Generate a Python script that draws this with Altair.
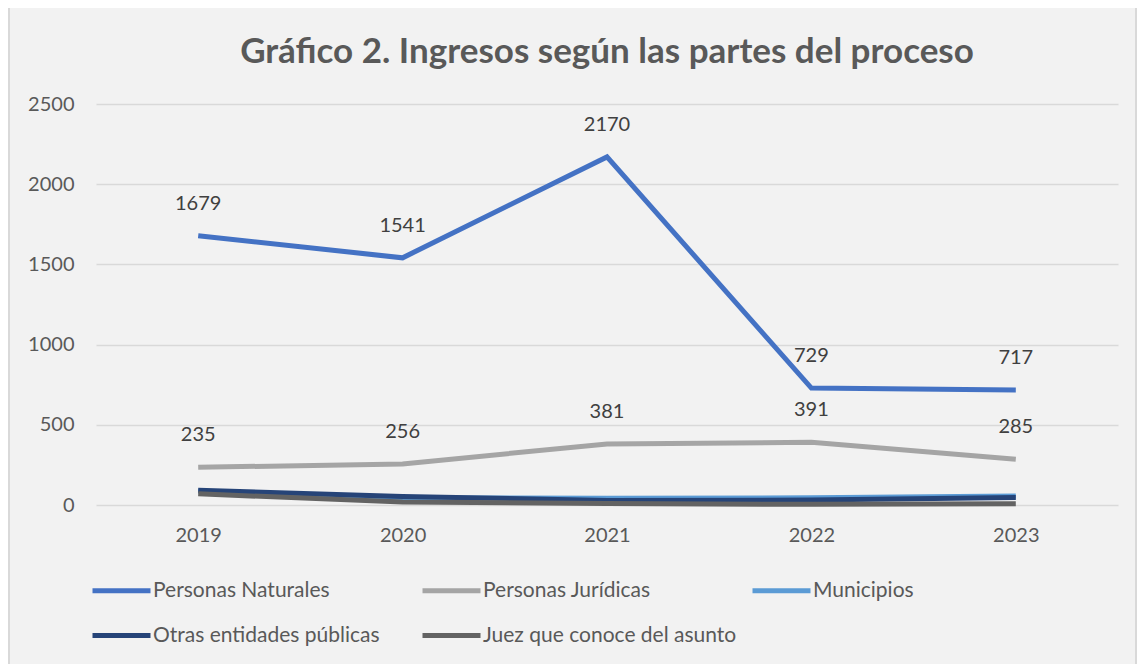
import altair as alt
import pandas as pd

years = ["2019", "2020", "2021", "2022", "2023"]
series_names = ["Personas Naturales", "Personas Jurídicas", "Municipios",
                "Otras entidades públicas", "Juez que conoce del asunto"]
naturales = [1679, 1541, 2170, 729, 717]
juridicas = [235, 256, 381, 391, 285]
municipios = [85, 45, 42, 45, 56]
otras = [92, 53, 28, 31, 47]
juez = [70, 18, 9, 4, 8]
colors = ["#4472C4", "#A5A5A5", "#5B9BD5", "#264478", "#636363"]
labeled = ["Personas Naturales", "Personas Jurídicas"]

values = [naturales, juridicas, municipios, otras, juez]
rows = []
for si, (name, vals) in enumerate(zip(series_names, values)):
    for y, v in zip(years, vals):
        rows.append({"year": y, "serie": name, "valor": v, "orden": si})
df = pd.DataFrame(rows)

FONT = "Lato"
W, H = 1022, 401

x_enc = alt.X("year:O", sort=years, scale=alt.Scale(type="point", padding=0.5),
              axis=alt.Axis(title=None, labelAngle=0, ticks=False, domain=False,
                            labelFontSize=20, labelColor="#595959", labelFont=FONT,
                            labelPadding=20))
y_enc = alt.Y("valor:Q", scale=alt.Scale(domain=[0, 2500], nice=False),
              axis=alt.Axis(title=None, values=[0, 500, 1000, 1500, 2000, 2500],
                            format="d", ticks=False, domain=False, grid=True,
                            gridColor="#D9D9D9", gridWidth=1.5, labelFontSize=20,
                            labelColor="#595959", labelFont=FONT, labelPadding=22))

frame = alt.Chart(pd.DataFrame({"a": [0]})).mark_rect(
    fill=None, stroke="#D9D9D9", strokeWidth=2
).encode(x=alt.value(-87), x2=alt.value(W + 18), y=alt.value(-98), y2=alt.value(H + 160))

lines = alt.Chart(df).mark_line(strokeWidth=5, strokeCap="butt").encode(
    x=x_enc, y=y_enc,
    color=alt.Color("serie:N", sort=series_names,
                    scale=alt.Scale(domain=series_names, range=colors),
                    legend=alt.Legend(title=None, orient="none", legendX=-6, legendY=455,
                                      direction="horizontal", columns=3, gridAlign="all",
                                      symbolType="stroke", symbolSize=3364,
                                      symbolStrokeWidth=5, labelFontSize=21,
                                      labelFont=FONT, labelColor="#595959",
                                      labelOffset=0, columnPadding=5, rowPadding=3,
                                      labelLimit=400)),
    order=alt.Order("orden:Q"),
    detail="serie:N",
)

labels = alt.Chart(df).transform_filter(
    alt.FieldOneOfPredicate(field="serie", oneOf=labeled)
).mark_text(fontSize=20, font=FONT, color="#404040", dy=-32).encode(
    x=alt.X("year:O", sort=years), y="valor:Q", text="valor:Q"
)

chart = alt.layer(frame, lines, labels).properties(
    width=W, height=H,
    title=alt.Title("Gráfico 2. Ingresos según las partes del proceso",
                    fontSize=35, font=FONT, fontWeight="bold", color="#595959",
                    anchor="middle", frame="group", offset=-65),
    padding={"left": 88, "top": 96, "right": 19, "bottom": 159},
    autosize=alt.AutoSizeParams(type="none"),
    background="#F2F2F2",
).configure_view(stroke=None)

chart.save("out.html", embed_options={"renderer": "svg", "actions": False})
